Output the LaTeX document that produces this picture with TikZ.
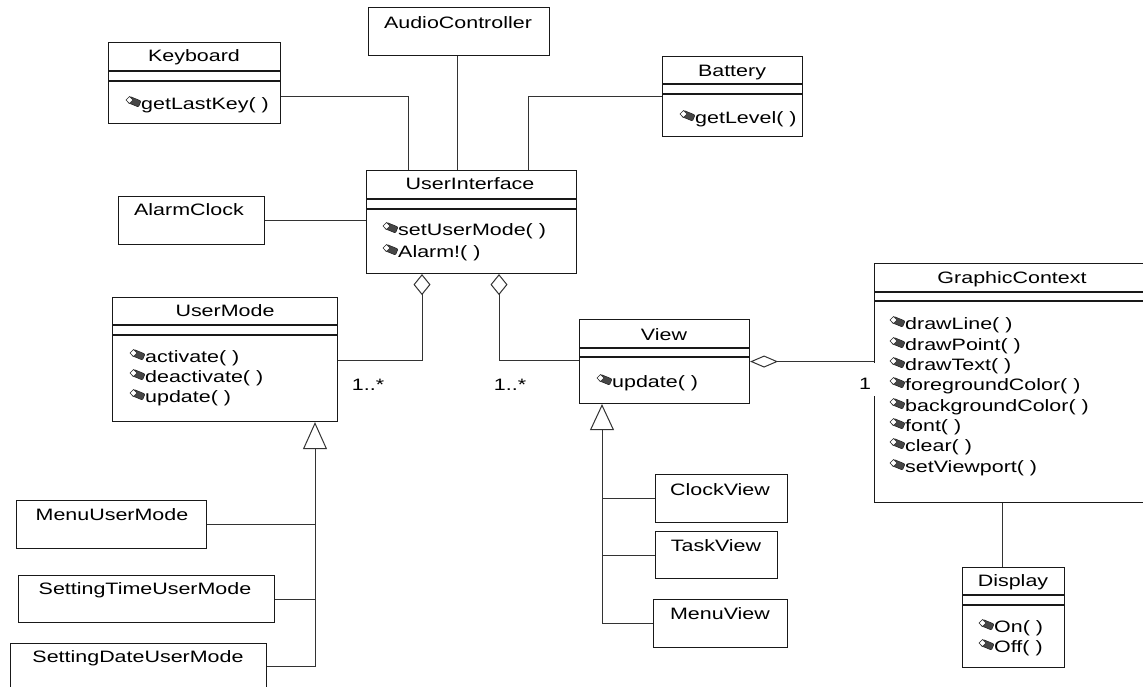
\documentclass[tikz,border=0pt]{standalone}
\usepackage{fontspec}
\setmainfont[FakeStretch=1.3]{Liberation Sans}
\usetikzlibrary{arrows.meta}

% class box: empty frame, texts are placed separately
\newcommand\umlbox[5]{\node[box, minimum width=#4pt, minimum height=#5pt] (#1) at (#2,#3) {};}
% the two compartment rules under the class name
\newcommand\umlseps[3]{\draw[sep] (#1.west |- 0,#2) -- (#1.east |- 0,#2);
  \draw[sep] (#1.west |- 0,#3) -- (#1.east |- 0,#3);}
% operation line: icon, then its text
\newcommand\umlop[4]{\pic at ({#2},{#3-9}) {opicon};
  \node[meth] (#1) at ({#2+15},{#3}) {#4};}

\begin{document}
\begin{tikzpicture}[x=1pt, y=-1pt,
  font=\fontsize{16.5}{20.5}\selectfont,
  box/.style={draw=black!90, rectangle, inner sep=0pt, anchor=north west, line width=1.1pt},
  sep/.style={draw=black!90, line width=1.1pt},
  title/.style={inner sep=0pt, anchor=center, text height=12pt, text depth=3.5pt},
  meth/.style={inner sep=0pt, anchor=west, text height=12pt, text depth=3.5pt},
  lbl/.style={inner sep=0pt, anchor=center, text height=12pt, text depth=3.5pt},
  conn/.style={draw=black!80, line width=1pt},
  aggr/.style={conn, {Diamond[open, length=#1]}-},
  aggr/.default={21pt, width=17pt},
  gen/.style={conn, -{Triangle[open, length=#1, width=24pt]}},
  gen/.default=27pt,
  opicon/.pic={
    \filldraw[draw=black!85, fill=black!72, line width=0.6pt, rounded corners=1pt]
      (4,0.5) -- (15,5) -- (12.5,11) -- (1.5,6.5) -- cycle;
    \filldraw[draw=black!85, fill=white, line width=0.6pt]
      (0,4) -- (3.5,0.5) -- (7,4) -- (3.5,7.5) -- cycle;
  }]

\clip (0,0) rectangle (1143,686);
\fill[white] (0,0) rectangle (1143,686);

% ---------- classes ----------
\umlbox{kb}{108}{42}{172}{81}
\umlseps{kb}{71}{81}
\node[title] (kbt) at (194,57) {Keyboard};
\umlop{kbo1}{126}{105}{getLastKey( )}

\umlbox{ac}{368}{7}{181}{48}
\node[title] (act) at (458,24) {AudioController};

\umlbox{bat}{662}{56}{140}{80}
\umlseps{bat}{84}{94}
\node[title] (batt) at (732,72) {Battery};
\umlop{bato1}{680}{119}{getLevel( )}

\umlbox{alarm}{118}{196}{146}{48}
\node[title] (alarmt) at (189,211) {AlarmClock};

\umlbox{ui}{366}{170}{210}{103}
\umlseps{ui}{199}{209}
\node[title] (uit) at (470,185) {UserInterface};
\umlop{uio1}{383}{231}{setUserMode( )}
\umlop{uio2}{383}{253}{Alarm!( )}

\umlbox{um}{112}{297}{225}{124}
\umlseps{um}{325}{335}
\node[title] (umt) at (225,312) {UserMode};
\umlop{umo1}{130}{358}{activate( )}
\umlop{umo2}{130}{378}{deactivate( )}
\umlop{umo3}{130}{398}{update( )}

\umlbox{mum}{16}{500}{190}{48}
\node[title] (mumt) at (112,516) {MenuUserMode};
\umlbox{stum}{18}{575}{256}{47}
\node[title] (stumt) at (145,590) {SettingTimeUserMode};
\umlbox{sdum}{10}{643}{256}{46}
\node[title] (sdumt) at (138,658) {SettingDateUserMode};

\umlbox{view}{579}{319}{170}{84}
\umlseps{view}{348}{357}
\node[title] (viewt) at (664,336) {View};
\umlop{viewo1}{597}{383}{update( )}

\umlbox{cv}{655}{474}{132}{48}
\node[title] (cvt) at (720,491) {ClockView};
\umlbox{tv}{655}{531}{122}{47}
\node[title] (tvt) at (716,547) {TaskView};
\umlbox{mv}{653}{599}{134}{48}
\node[title] (mvt) at (720,615) {MenuView};

\umlbox{gc}{874}{263}{276}{239}
\umlseps{gc}{292}{301}
\node[title] (gct) at (1012,279) {GraphicContext};
\umlop{gco1}{890}{325}{drawLine( )}
\umlop{gco2}{890}{346}{drawPoint( )}
\umlop{gco3}{890}{366}{drawText( )}
\umlop{gco4}{890}{386}{foregroundColor( )}
\umlop{gco5}{890}{407}{backgroundColor( )}
\umlop{gco6}{890}{427}{font( )}
\umlop{gco7}{890}{447}{clear( )}
\umlop{gco8}{890}{468}{setViewport( )}

\umlbox{disp}{962}{567}{102}{100}
\umlseps{disp}{595}{605}
\node[title] (dispt) at (1013,582) {Display};
\umlop{dispo1}{979}{628}{On( )}
\umlop{dispo2}{979}{648}{Off( )}

% ---------- associations around UserInterface ----------
\coordinate (kbk) at (408,96);
\draw[conn] (kb.east |- kbk) -- (kbk) -- (ui.north -| kbk);
\coordinate (ack) at (457,100);
\draw[conn] (ac.south -| ack) -- (ui.north -| ack);
\coordinate (batk) at (528,96);
\draw[conn] (bat.west |- batk) -- (batk) -- (ui.north -| batk);
\draw[conn] (alarm.east) -- (ui.west |- alarm.east);

% ---------- aggregations ----------
\coordinate (umk) at (422,360);
\draw[aggr] (ui.south -| umk) -- (umk) -- (um.east |- umk);
\coordinate (vk) at (499,360);
\draw[aggr] (ui.south -| vk) -- (vk) -- (view.west |- vk);
\draw[aggr={28pt, width=12pt}] (view.east) -- (gc.west |- view.east);

\node[lbl] (m1) at (368,386) {1..*};
\node[lbl] (m2) at (510,386) {1..*};
% the multiplicity interrupts the frame of GraphicContext
\fill[white] (872,362.5) rectangle (877,396);
\node[lbl] (m3) at (865,385) {1};

% ---------- generalizations ----------
\coordinate (umj) at (315,666);
\draw[gen] (sdum.east |- umj) -- (umj) -- (um.south -| umj);
\draw[conn] (mum.east) -- (mum.east -| umj);
\draw[conn] (stum.east) -- (stum.east -| umj);

\coordinate (vj) at (602,623);
\draw[gen=26pt] (mv.west |- vj) -- (vj) -- (view.south -| vj);
\draw[conn] (cv.west) -- (cv.west -| vj);
\draw[conn] (tv.west) -- (tv.west -| vj);

% ---------- GraphicContext to Display ----------
\coordinate (gcd) at (1002,530);
\draw[conn] (gc.south -| gcd) -- (disp.north -| gcd);

\end{tikzpicture}
\end{document}
